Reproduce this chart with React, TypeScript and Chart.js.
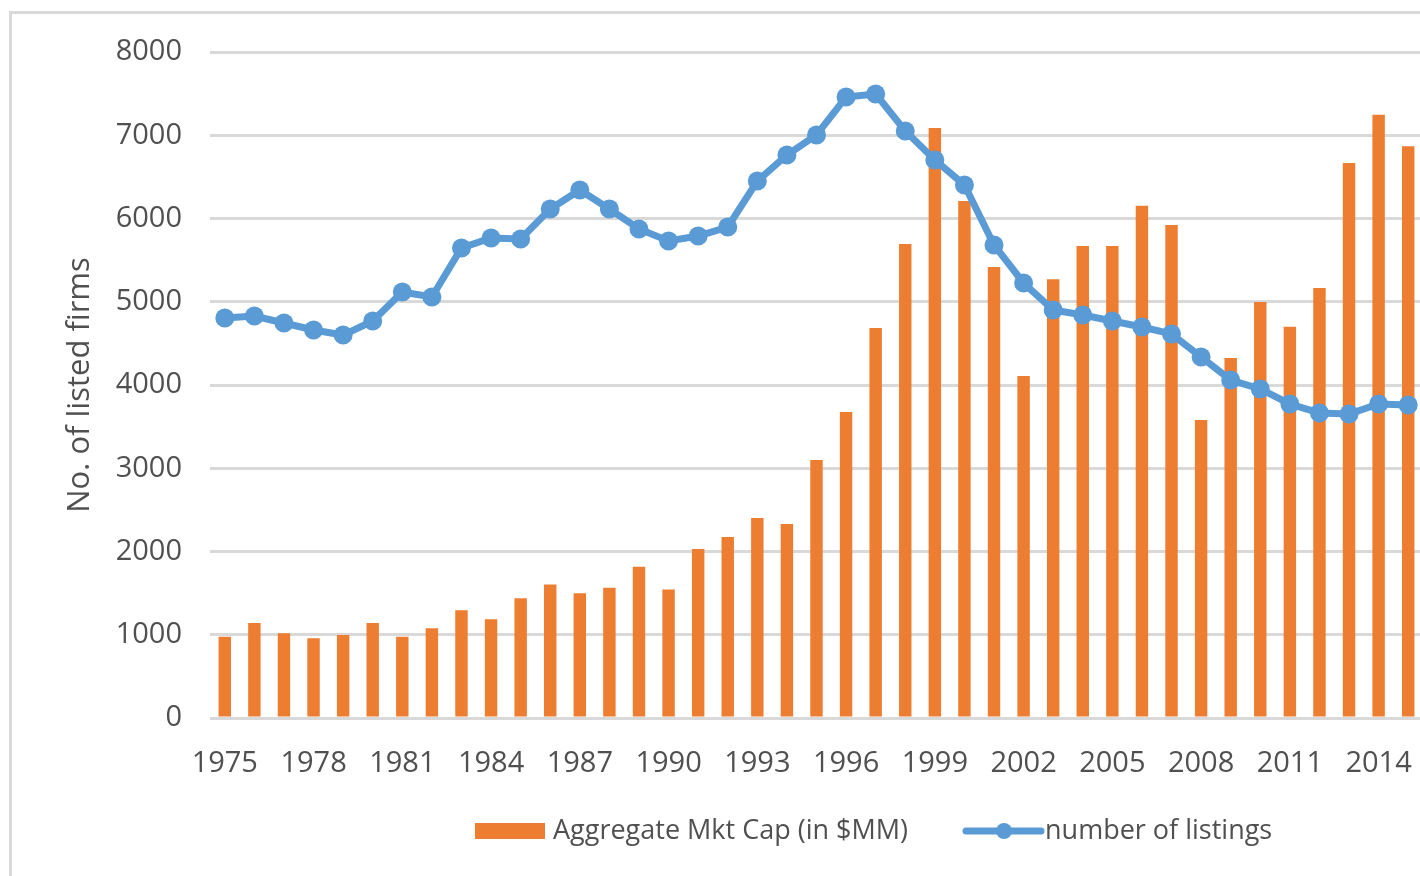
import React, { useEffect, useRef } from "react";
import { Chart, registerables } from "chart.js";

Chart.register(...registerables);

const years: string[] = [
  "1975","1976","1977","1978","1979","1980","1981","1982","1983","1984",
  "1985","1986","1987","1988","1989","1990","1991","1992","1993","1994",
  "1995","1996","1997","1998","1999","2000","2001","2002","2003","2004",
  "2005","2006","2007","2008","2009","2010","2011","2012","2013","2014","2015",
];

const mktCap: number[] = [
  977, 1141, 1017, 957, 997, 1141, 977, 1077, 1293, 1185,
  1437, 1605, 1497, 1565, 1817, 1545, 2030, 2174, 2402, 2330,
  3099, 3676, 4685, 5694, 7087, 6210, 5417, 4108, 5270, 5670,
  5670, 6154, 5922, 3580, 4324, 4997, 4700, 5165, 6667, 7247, 6867,
];

const listings: number[] = [
  4805, 4829, 4745, 4661, 4600, 4769, 5117, 5057, 5646, 5766,
  5754, 6114, 6342, 6114, 5874, 5730, 5790, 5898, 6450, 6763,
  7003, 7459, 7495, 7051, 6703, 6402, 5682, 5225, 4901, 4841,
  4769, 4697, 4613, 4336, 4060, 3952, 3772, 3664, 3652, 3772, 3760,
];

const yTicks: number[] = [0, 1000, 2000, 3000, 4000, 5000, 6000, 7000, 8000];

const barLabel = "Aggregate Mkt Cap (in $MM)";
const lineLabel = "number of listings";
const yTitle = "No. of listed firms";

const ORANGE = "#ED7D31";
const BLUE = "#5B9BD5";
const TEXT = "#505050";
const GRID = "#d9d9d9";
const FONT = "'Open Sans', sans-serif";

const legendPlugin = {
  id: "customLegend",
  afterDraw(chart: any) {
    const ctx = chart.ctx;
    ctx.save();
    ctx.font = `27px ${FONT}`;
    ctx.textBaseline = "middle";
    const y = 831;
    let x = 475;
    ctx.fillStyle = ORANGE;
    ctx.fillRect(x, y - 8, 70, 16);
    x += 78;
    ctx.fillStyle = TEXT;
    ctx.fillText(barLabel, x, y);
    x += ctx.measureText(barLabel).width + 58;
    ctx.strokeStyle = BLUE;
    ctx.lineWidth = 7;
    ctx.lineCap = "round";
    ctx.beginPath();
    ctx.moveTo(x, y);
    ctx.lineTo(x + 75, y);
    ctx.stroke();
    ctx.fillStyle = BLUE;
    ctx.beginPath();
    ctx.arc(x + 38, y, 8, 0, Math.PI * 2);
    ctx.fill();
    x += 79;
    ctx.fillStyle = TEXT;
    ctx.fillText(lineLabel, x, y);
    ctx.restore();
  },
};

export default function App() {
  const ref = useRef<HTMLCanvasElement>(null);

  useEffect(() => {
    if (!ref.current) return;
    const chart = new Chart(ref.current, {
      type: "bar",
      data: {
        labels: years,
        datasets: [
          {
            type: "line",
            label: lineLabel,
            data: listings,
            borderColor: BLUE,
            backgroundColor: BLUE,
            borderWidth: 7,
            pointRadius: 9.5,
            pointBackgroundColor: BLUE,
            pointBorderWidth: 0,
            tension: 0,
            order: 0,
          } as any,
          {
            type: "bar",
            label: barLabel,
            data: mktCap,
            backgroundColor: ORANGE,
            categoryPercentage: 1,
            barPercentage: 0.42,
            order: 1,
          },
        ],
      },
      options: {
        animation: false,
        responsive: false,
        maintainAspectRatio: false,
        layout: { padding: { left: 0, right: 17, top: 52, bottom: 0 } },
        plugins: {
          legend: { display: false },
          tooltip: { enabled: false },
        },
        scales: {
          x: {
            grid: { display: false },
            border: { display: false },
            ticks: {
              autoSkip: false,
              maxRotation: 0,
              padding: 20,
              color: TEXT,
              font: { family: FONT, size: 29 },
              callback: (_v: any, i: number) => (i % 3 === 0 ? years[i] : ""),
            },
            afterFit: (s: any) => {
              s.height = 158;
            },
          },
          y: {
            min: 0,
            max: 8000,
            afterBuildTicks: (s: any) => {
              s.ticks = yTicks.map((v) => ({ value: v }));
            },
            grid: { color: GRID, lineWidth: 3, drawTicks: false },
            border: { display: false },
            ticks: {
              padding: 28,
              color: TEXT,
              font: { family: FONT, size: 29 },
              callback: (v: any) => String(v),
            },
            title: {
              display: true,
              text: yTitle,
              color: TEXT,
              font: { family: FONT, size: 31 },
              padding: { top: 62, bottom: 0 },
            },
            afterFit: (s: any) => {
              s.width = 210;
            },
          },
        },
      },
      plugins: [legendPlugin],
    });
    return () => chart.destroy();
  }, []);

  return (
    <div style={{ position: "fixed", left: 0, top: 0, width: 1420, height: 876, overflow: "hidden", background: "#fff" }}>
      <div
        style={{
          position: "absolute",
          left: 9,
          top: 11,
          width: 2000,
          height: 2000,
          borderLeft: `3px solid ${GRID}`,
          borderTop: `3px solid ${GRID}`,
        }}
      />
      <canvas ref={ref} width={1440} height={876} style={{ position: "absolute", left: 0, top: 0 }} />
    </div>
  );
}
